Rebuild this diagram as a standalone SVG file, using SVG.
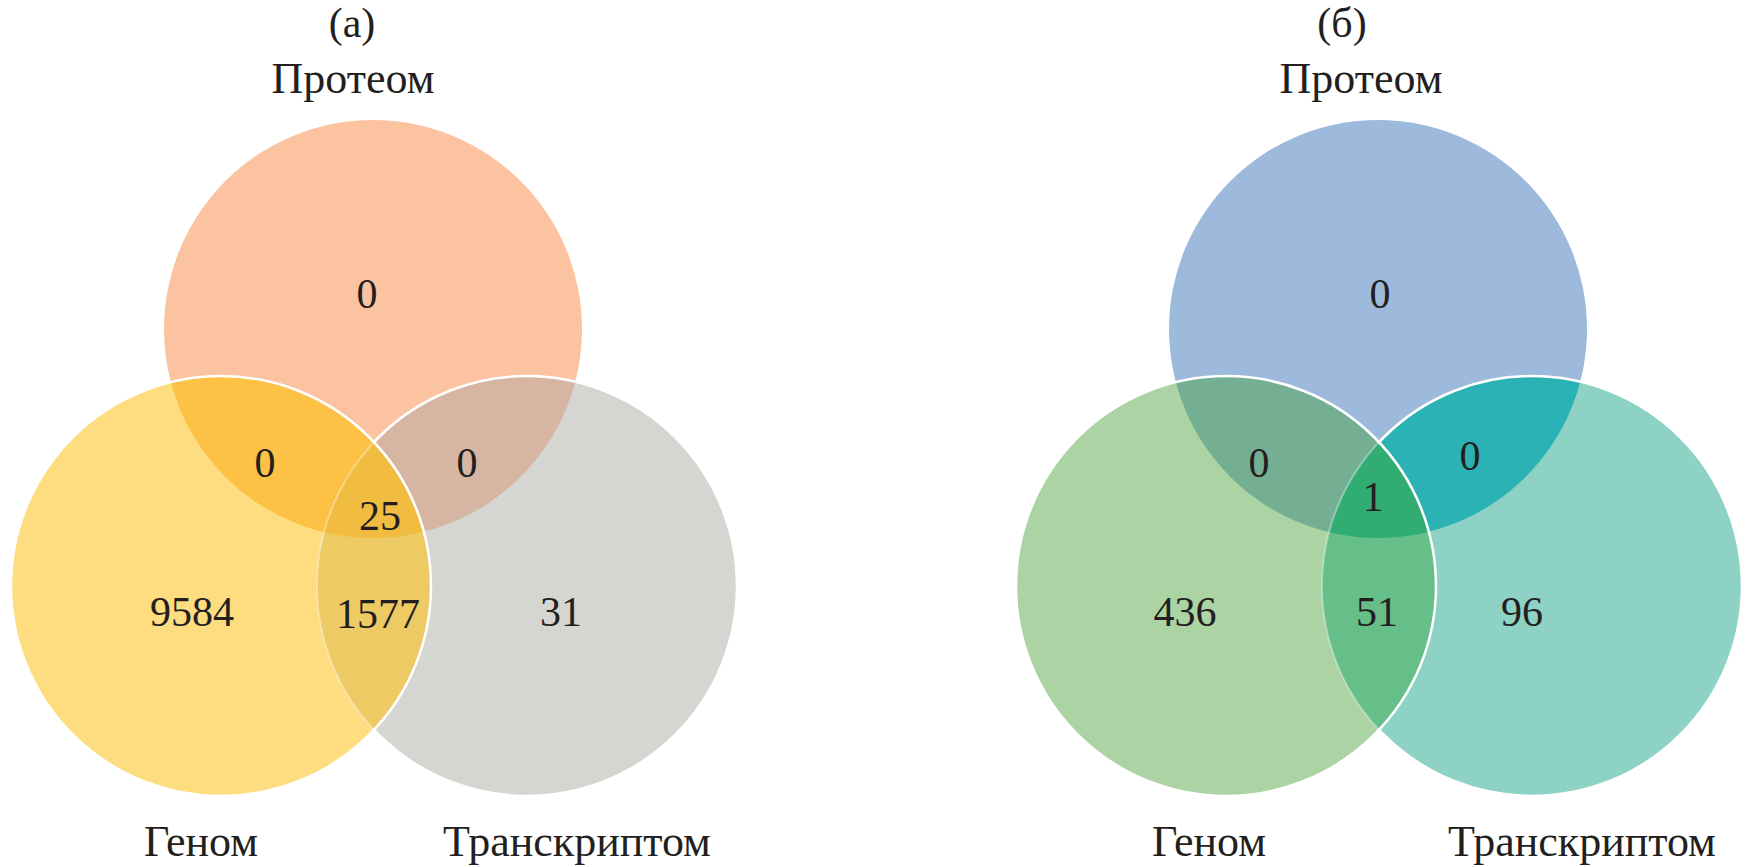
<svg xmlns="http://www.w3.org/2000/svg" width="1747" height="867" viewBox="0 0 1747 867">
<style>
text{font-family:"Liberation Serif","Times New Roman",serif;fill:#231f20;text-anchor:middle}
.num{font-size:42px}
.lab{font-size:44px}
.ttl{font-size:42px}
.edge{fill:none;stroke:#ffffff;stroke-width:2.5}
.faint{fill:none;stroke:#ffffff;stroke-width:2;stroke-opacity:0.35}
</style>
<defs>
<clipPath id="cP"><circle cx="373" cy="329" r="209"/></clipPath>
<clipPath id="cG"><circle cx="221" cy="586" r="210"/></clipPath>
<mask id="outG" maskUnits="userSpaceOnUse" x="0" y="0" width="874" height="867"><rect x="0" y="0" width="874" height="867" fill="#fff"/><circle cx="221" cy="586" r="210" fill="#000"/></mask>
</defs>
<rect width="1747" height="867" fill="#ffffff"/>

<g id="panel-a">
<g id="a-proteome"><circle cx="373" cy="329" r="209" fill="#fcc3a0"/></g>
<g id="a-genome"><circle cx="221" cy="586" r="210" fill="#fedd80"/></g>
<g id="a-transcriptome"><circle cx="527" cy="586" r="210" fill="#d5d6d2"/></g>
<g id="a-overlaps">
<circle cx="221" cy="586" r="210" fill="#fcc145" clip-path="url(#cP)"/>
<circle cx="527" cy="586" r="210" fill="#d6b6a2" clip-path="url(#cP)"/>
<circle cx="527" cy="586" r="210" fill="#eeca64" clip-path="url(#cG)"/>
<g clip-path="url(#cP)"><circle cx="527" cy="586" r="210" fill="#f0bd40" clip-path="url(#cG)"/></g>
</g>
<g id="a-edges">
<circle class="faint" cx="527" cy="586" r="210"/>
<circle class="edge" cx="527" cy="586" r="210" mask="url(#outG)"/>
<circle class="edge" cx="221" cy="586" r="210"/>
</g>
</g>

<g id="panel-b" transform="translate(1005,0)">
<g id="b-proteome"><circle cx="373" cy="329" r="209" fill="#9dbadc"/></g>
<g id="b-genome"><circle cx="221" cy="586" r="210" fill="#abd3a4"/></g>
<g id="b-transcriptome"><circle cx="527" cy="586" r="210" fill="#8dd2c5"/></g>
<g id="b-overlaps">
<circle cx="221" cy="586" r="210" fill="#74af93" clip-path="url(#cP)"/>
<circle cx="527" cy="586" r="210" fill="#2bb2b4" clip-path="url(#cP)"/>
<circle cx="527" cy="586" r="210" fill="#66be88" clip-path="url(#cG)"/>
<g clip-path="url(#cP)"><circle cx="527" cy="586" r="210" fill="#31ad74" clip-path="url(#cG)"/></g>
</g>
<g id="b-edges">
<circle class="faint" cx="527" cy="586" r="210"/>
<circle class="edge" cx="527" cy="586" r="210" mask="url(#outG)"/>
<circle class="edge" cx="221" cy="586" r="210"/>
</g>
</g>

<g id="labels-a">
<text class="ttl" x="352" y="37">(а)</text>
<text class="lab" x="353" y="93">Протеом</text>
<text class="num" x="367" y="308">0</text>
<text class="num" x="265" y="477">0</text>
<text class="num" x="467" y="477">0</text>
<text class="num" x="380" y="530">25</text>
<text class="num" x="192" y="626">9584</text>
<text class="num" x="378" y="628">1577</text>
<text class="num" x="561" y="626">31</text>
<text class="lab" x="201" y="856">Геном</text>
<text class="lab" x="577" y="856">Транскриптом</text>
</g>
<g id="labels-b">
<text class="ttl" x="1342" y="37">(б)</text>
<text class="lab" x="1361" y="93">Протеом</text>
<text class="num" x="1380" y="308">0</text>
<text class="num" x="1259" y="477">0</text>
<text class="num" x="1470" y="470">0</text>
<text class="num" x="1373" y="511">1</text>
<text class="num" x="1185" y="626">436</text>
<text class="num" x="1377" y="626">51</text>
<text class="num" x="1522" y="626">96</text>
<text class="lab" x="1209" y="856">Геном</text>
<text class="lab" x="1582" y="856">Транскриптом</text>
</g>
</svg>
